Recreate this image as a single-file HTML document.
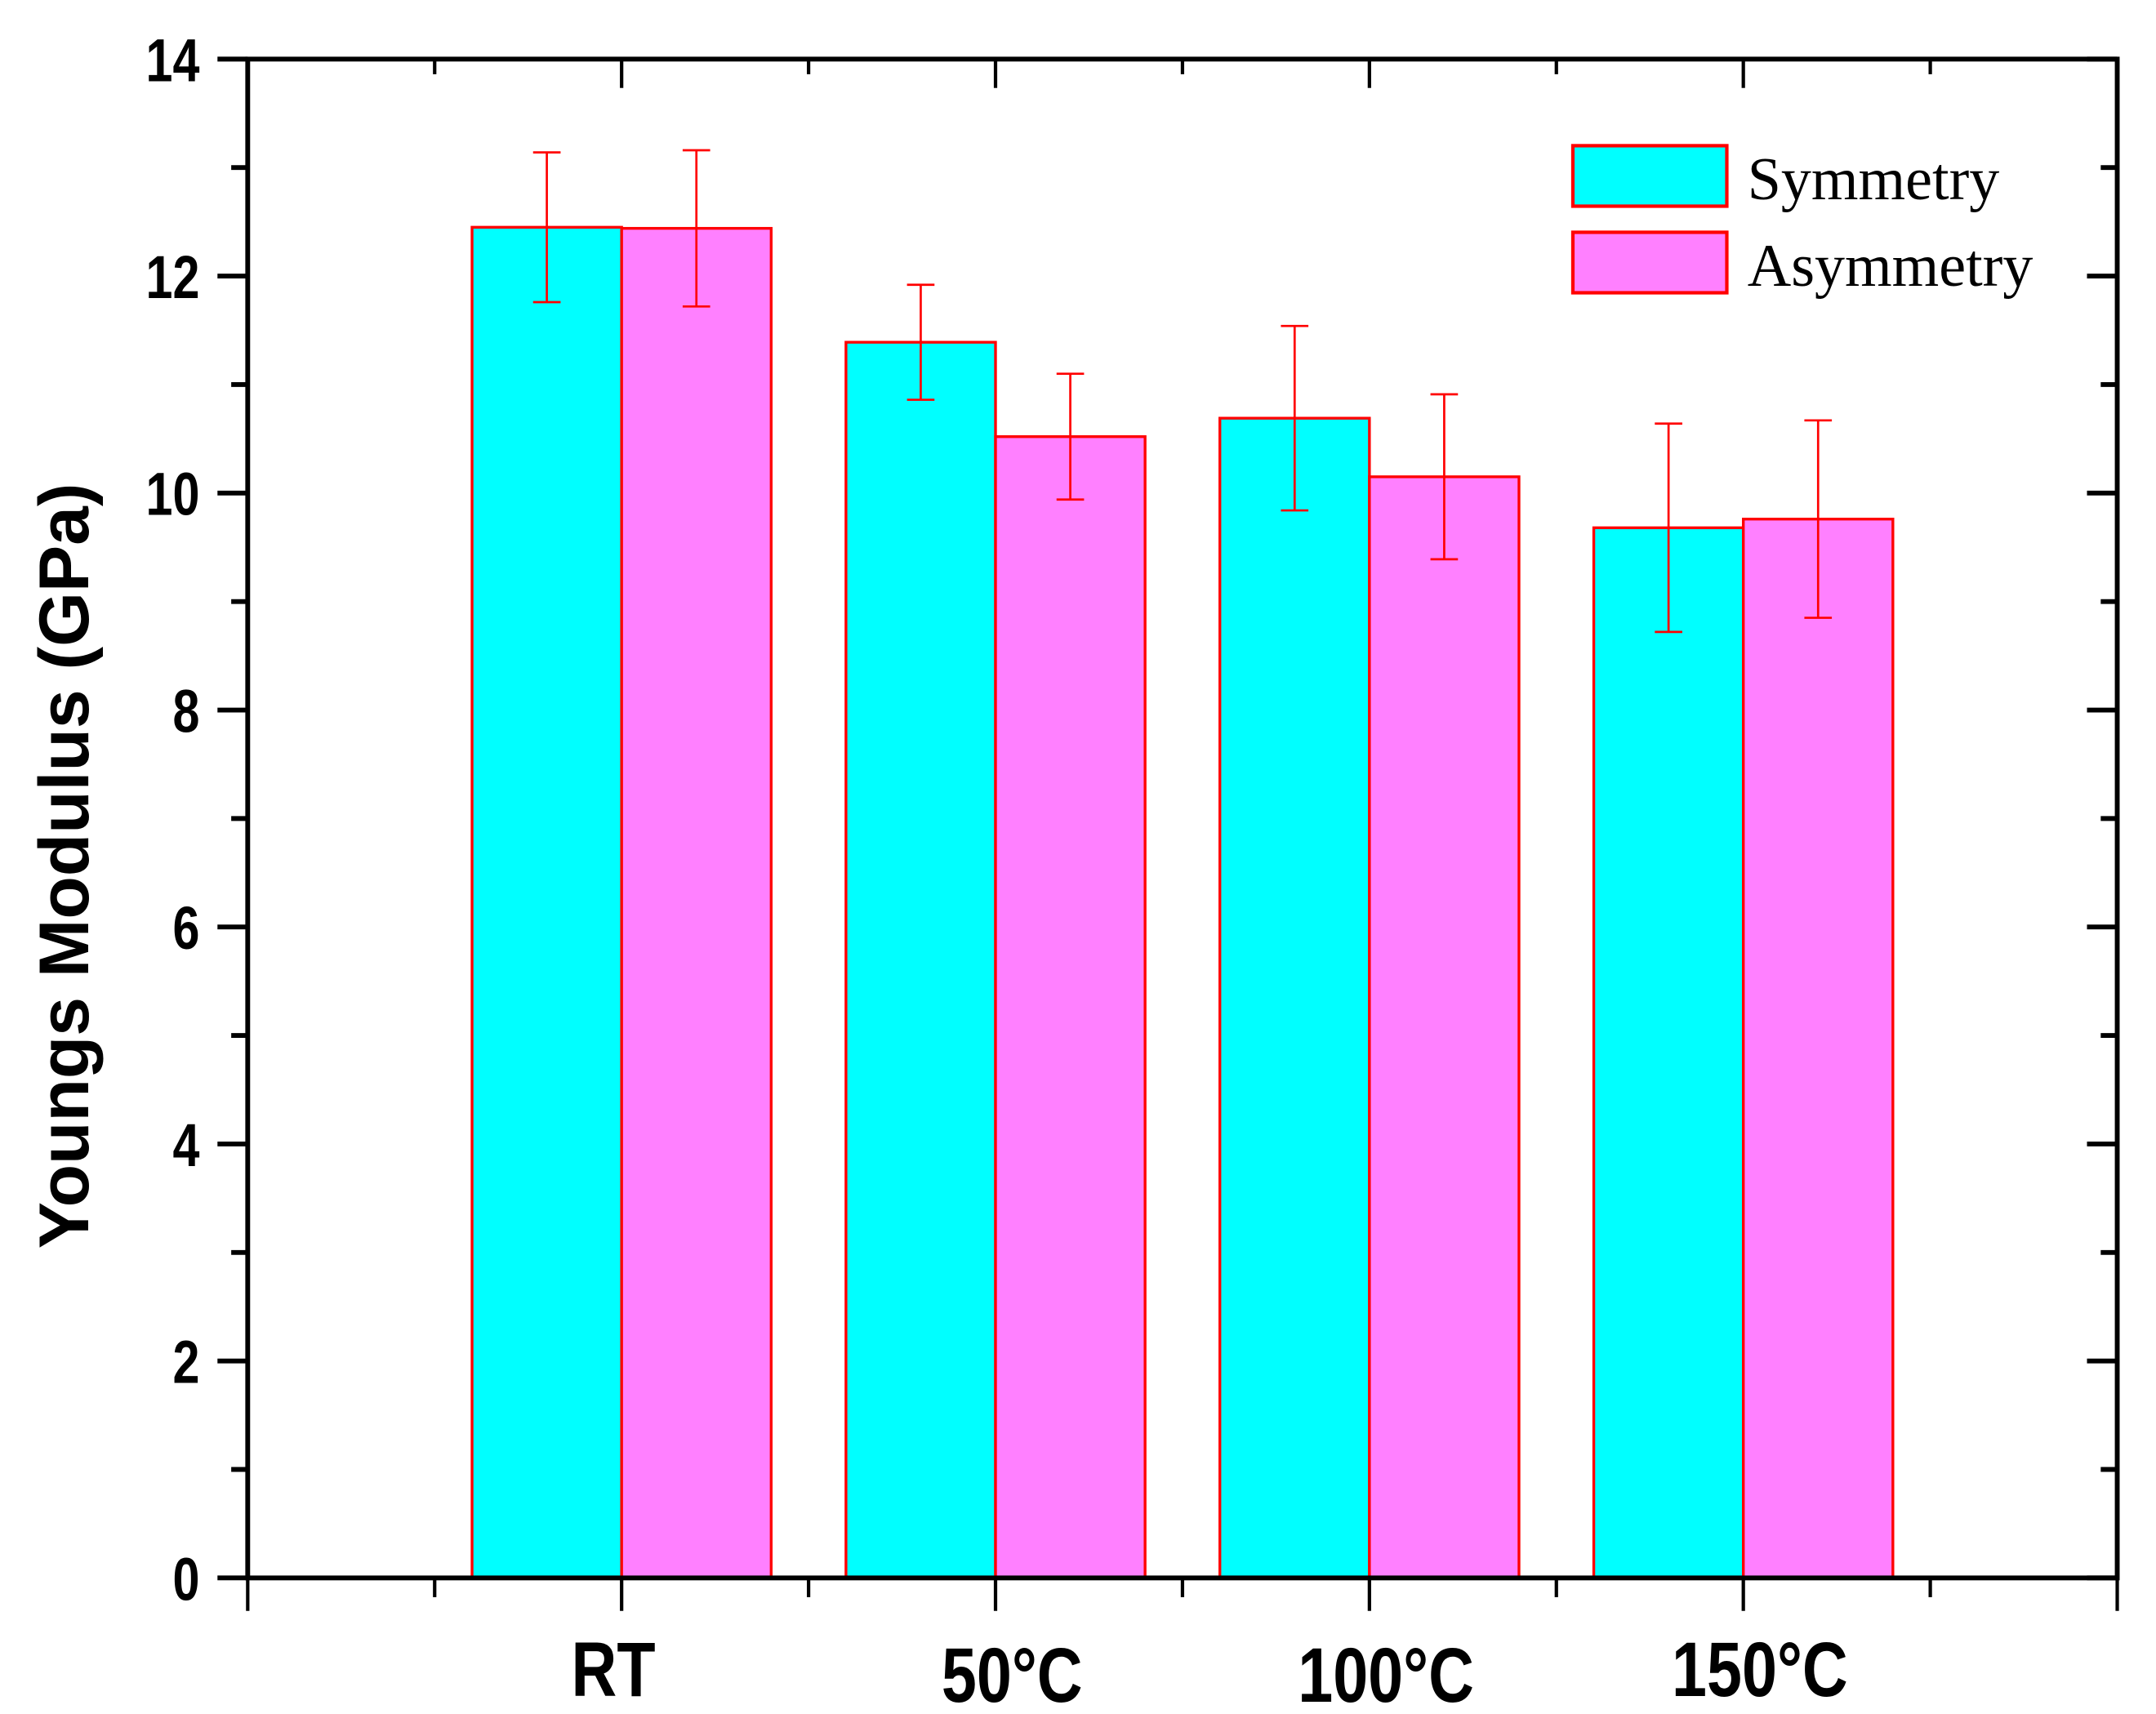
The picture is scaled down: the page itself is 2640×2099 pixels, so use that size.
<!DOCTYPE html>
<html><head><meta charset="utf-8"><style>
html,body{margin:0;padding:0;background:#fff;}
svg{display:block;}
</style></head><body>
<svg id="chart" width="2640" height="2099" viewBox="0 0 1568 1247" xmlns="http://www.w3.org/2000/svg">
<g id="bars"></g>
<g id="axes"></g>
<text transform="translate(64,630) rotate(-90)" text-anchor="middle" font-family="Liberation Sans, sans-serif" font-weight="bold" font-size="51">Youngs Modulus (GPa)</text>
<g>
<rect x="1144" y="106" width="112" height="44" fill="#00ffff" stroke="#ff0000" stroke-width="2.5"/>
<text x="1271" y="145" font-family="Liberation Serif, serif" font-size="44">Symmetry</text>
<rect x="1144" y="169" width="112" height="44" fill="#ff80ff" stroke="#ff0000" stroke-width="2.5"/>
<text x="1271" y="208" font-family="Liberation Serif, serif" font-size="44">Asymmetry</text>
</g>
</svg>
<script>
const categories = ["RT", "50°C", "100°C", "150°C"];
const symmetryValues = [12.45, 11.39, 10.69, 9.68];
const symmetryErrors = [0.69, 0.53, 0.85, 0.96];
const asymmetryValues = [12.44, 10.52, 10.15, 9.76];
const asymmetryErrors = [0.72, 0.58, 0.76, 0.91];
const yTicks = [0, 2, 4, 6, 8, 10, 12, 14];

const NS = "http://www.w3.org/2000/svg";
const L = 180, R = 1540, T = 43, B = 1148;
const yMax = 14, xMax = categories.length + 1;
const yS = v => B - (v / yMax) * (B - T);
const xS = v => L + (v / xMax) * (R - L);
const barW = xS(0.4) - xS(0);

function mk(tag, attrs, parent) {
  const e = document.createElementNS(NS, tag);
  for (const k in attrs) e.setAttribute(k, attrs[k]);
  parent.appendChild(e);
  return e;
}
const bars = document.getElementById('bars');
const axes = document.getElementById('axes');

function drawSeries(vals, errs, offset, fill, name) {
  vals.forEach((v, i) => {
    const cx = xS(i + 1);
    const x0 = offset < 0 ? cx - barW : cx;
    const r = mk('rect', {x: x0, y: yS(v), width: barW, height: yS(0) - yS(v), fill: fill, stroke: '#ff0000', 'stroke-width': 2}, bars);
    
    
    const mx = x0 + barW / 2;
    const g = mk('g', {stroke: '#ff0000', 'stroke-width': 1.6}, bars);
    
    
    mk('line', {x1: mx, x2: mx, y1: yS(v + errs[i]), y2: yS(v - errs[i])}, g);
    mk('line', {x1: mx - 10, x2: mx + 10, y1: yS(v + errs[i]), y2: yS(v + errs[i])}, g);
    mk('line', {x1: mx - 10, x2: mx + 10, y1: yS(v - errs[i]), y2: yS(v - errs[i])}, g);
  });
}
drawSeries(symmetryValues, symmetryErrors, -1, '#00ffff', 'symmetry');
drawSeries(asymmetryValues, asymmetryErrors, 1, '#ff80ff', 'asymmetry');

const fr = mk('rect', {x: L, y: T, width: R - L, height: B - T, fill: 'none', stroke: '#000', 'stroke-width': 3.5}, axes);



for (let v = 0; v <= yMax; v++) {
  const major = v % 2 === 0;
  const y = yS(v);
  const len = major ? 22 : 12;
  mk('line', {x1: L - len, x2: L, y1: y, y2: y, stroke: '#000', 'stroke-width': 3.5}, axes);
  mk('line', {x1: R, x2: R - len, y1: y, y2: y, stroke: '#000', 'stroke-width': 3.5}, axes);
}
yTicks.forEach(v => {
  const t = mk('text', {x: 0, y: 0, 'text-anchor': 'end', 'font-family': 'Liberation Sans, sans-serif', 'font-weight': 'bold', 'font-size': 44, transform: 'translate(145,' + (yS(v) + 16) + ') scale(0.8,1)'}, axes);
  t.textContent = v;
  
  
});

for (let k = 0; k <= xMax * 2; k++) {
  const v = k / 2;
  const major = k % 2 === 0;
  const x = xS(v);
  mk('line', {x1: x, x2: x, y1: B, y2: B + (major ? 24 : 14), stroke: '#000', 'stroke-width': 2.5}, axes);
  mk('line', {x1: x, x2: x, y1: T, y2: T + (major ? 21 : 11), stroke: '#000', 'stroke-width': 2.5}, axes);
}
categories.forEach((c, i) => {
  const cx = xS(i + 1) + (i === 0 ? -6 : 12);
  const t = mk('text', {x: 0, y: 0, 'text-anchor': 'middle', 'font-family': 'Liberation Sans, sans-serif', 'font-weight': 'bold', 'font-size': 56, transform: 'translate(' + cx + ',' + (i === 0 ? 1234 : (i === 3 ? 1234 : 1238)) + ') scale(0.82,1)'}, axes);
  t.textContent = c;
  
  
});
</script>
</body></html>
